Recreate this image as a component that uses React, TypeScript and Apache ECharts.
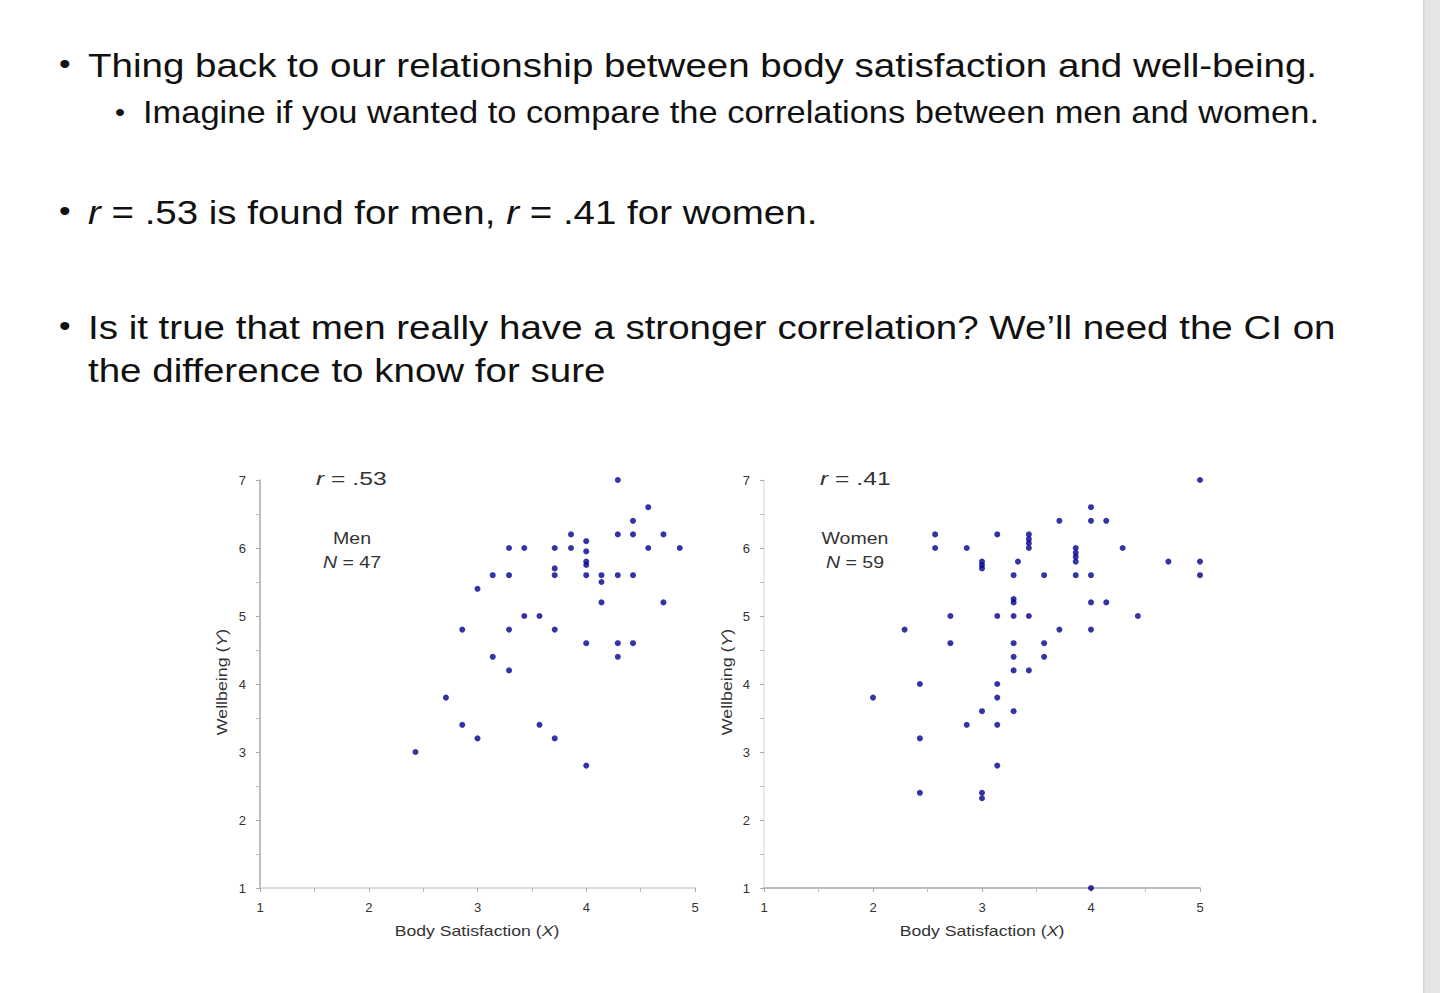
import React, { useEffect, useRef } from "react";
import * as echarts from "echarts";

// Men: Body Satisfaction (X) and Wellbeing (Y)
const menX = [4.29, 4.57, 4.43, 3.86, 4.0, 4.29, 4.43, 4.71, 3.29, 3.43, 3.71, 3.86, 4.0, 4.57, 4.86, 3.14, 3.29, 3.71, 3.71, 4.0, 4.0, 4.0, 4.14, 4.14, 4.29, 4.43, 3.0, 4.14, 4.71, 3.43, 3.57, 2.86, 3.29, 3.71, 4.0, 4.29, 4.43, 3.14, 4.29, 3.29, 2.71, 2.86, 3.0, 3.57, 3.71, 2.43, 4.0];
const menY = [7.0, 6.6, 6.4, 6.2, 6.1, 6.2, 6.2, 6.2, 6.0, 6.0, 6.0, 6.0, 5.95, 6.0, 6.0, 5.6, 5.6, 5.7, 5.6, 5.8, 5.75, 5.6, 5.6, 5.5, 5.6, 5.6, 5.4, 5.2, 5.2, 5.0, 5.0, 4.8, 4.8, 4.8, 4.6, 4.6, 4.6, 4.4, 4.4, 4.2, 3.8, 3.4, 3.2, 3.4, 3.2, 3.0, 2.8];

// Women: Body Satisfaction (X) and Wellbeing (Y)
const womenX = [5.0, 4.0, 3.71, 4.0, 4.14, 2.57, 2.57, 2.86, 3.14, 3.43, 3.43, 3.43, 3.43, 3.0, 3.0, 3.0, 3.33, 3.29, 3.57, 3.86, 3.86, 3.86, 3.86, 3.86, 4.0, 4.29, 4.71, 5.0, 5.0, 3.29, 3.29, 4.0, 4.14, 2.71, 3.14, 3.29, 3.43, 4.43, 2.29, 3.71, 4.0, 2.71, 3.29, 3.57, 3.29, 3.57, 3.29, 3.43, 2.43, 3.14, 2.0, 3.14, 3.0, 3.29, 2.86, 3.14, 2.43, 3.14, 2.43, 3.0, 3.0, 4.0];
const womenY = [7.0, 6.6, 6.4, 6.4, 6.4, 6.2, 6.0, 6.0, 6.2, 6.2, 6.13, 6.07, 6.0, 5.8, 5.75, 5.7, 5.8, 5.6, 5.6, 6.0, 5.93, 5.87, 5.8, 5.6, 5.6, 6.0, 5.8, 5.8, 5.6, 5.25, 5.2, 5.2, 5.2, 5.0, 5.0, 5.0, 5.0, 5.0, 4.8, 4.8, 4.8, 4.6, 4.6, 4.6, 4.4, 4.4, 4.2, 4.2, 4.0, 4.0, 3.8, 3.8, 3.6, 3.6, 3.4, 3.4, 3.2, 2.8, 2.4, 2.4, 2.32, 1.0];

// Tick labels
const xTicks = [1, 2, 3, 4, 5];
const yTicks = [1, 2, 3, 4, 5, 6, 7];

const FONT = "'Liberation Sans', Arial, sans-serif";
const DOT = "#00008f";

function zip(xs: number[], ys: number[]) {
  return xs.map((x, i) => [x, ys[i]]);
}

function xAxisFor(gridIndex: number, lineColor: string) {
  return {
    gridIndex,
    type: "value",
    min: xTicks[0],
    max: xTicks[xTicks.length - 1],
    interval: 1,
    axisLine: { show: true, lineStyle: { color: lineColor, width: 1.5 } },
    axisTick: { show: true, length: 4, lineStyle: { color: "#aaa" } },
    minorTick: { show: true, splitNumber: 2, length: 4, lineStyle: { color: "#bbb" } },
    splitLine: { show: false },
    axisLabel: { color: "#333", fontSize: 13, margin: 13, fontFamily: FONT },
  };
}

function yAxisFor(gridIndex: number, lineColor: string) {
  return {
    gridIndex,
    type: "value",
    min: yTicks[0],
    max: yTicks[yTicks.length - 1],
    interval: 1,
    axisLine: { show: true, lineStyle: { color: lineColor, width: 1.5 } },
    axisTick: { show: true, length: 4, lineStyle: { color: "#aaa" } },
    minorTick: { show: true, splitNumber: 2, length: 4, lineStyle: { color: "#bbb" } },
    splitLine: { show: false },
    axisLabel: { color: "#333", fontSize: 13, margin: 14, fontFamily: FONT },
  };
}

function bodyText(x: number, y: number, text: string, size: number, sx: number) {
  return {
    type: "text",
    x,
    y,
    scaleX: sx,
    style: {
      text,
      fill: "#111",
      fontSize: size,
      fontFamily: FONT,
      verticalAlign: "middle",
      rich: {
        i: { fontStyle: "italic", fontSize: size, fontFamily: FONT, fill: "#111" },
      },
    },
  };
}

function chartText(x: number, y: number, text: string, size: number, sx: number, align = "left", rotation = 0) {
  return {
    type: "text",
    x,
    y,
    scaleX: sx,
    rotation,
    style: {
      text,
      fill: "#333",
      fontSize: size,
      fontFamily: FONT,
      align,
      verticalAlign: "middle",
      lineHeight: 24,
      rich: {
        i: { fontStyle: "italic", fontSize: size, fontFamily: FONT, fill: "#333" },
      },
    },
  };
}

export default function App() {
  const ref = useRef<HTMLDivElement>(null);

  useEffect(() => {
    if (!ref.current) return;
    const chart = echarts.init(ref.current, undefined, { renderer: "svg" });
    chart.setOption({
      animation: false,
      backgroundColor: "#ffffff",
      textStyle: { fontFamily: FONT },
      grid: [
        { left: 260, top: 480, width: 435, height: 408 },
        { left: 764, top: 480, width: 436, height: 408 },
      ],
      xAxis: [xAxisFor(0, "#cfcfcf"), xAxisFor(1, "#a8a8a8")],
      yAxis: [yAxisFor(0, "#a8a8a8"), yAxisFor(1, "#e2e2e2")],
      series: [
        {
          type: "scatter",
          xAxisIndex: 0,
          yAxisIndex: 0,
          data: zip(menX, menY),
          symbolSize: 6,
          itemStyle: { color: DOT },
        },
        {
          type: "scatter",
          xAxisIndex: 1,
          yAxisIndex: 1,
          data: zip(womenX, womenY),
          symbolSize: 6,
          itemStyle: { color: DOT },
        },
      ],
      graphic: [
        // right-hand scrollbar strip
        { type: "rect", shape: { x: 1423, y: 0, width: 17, height: 993 }, style: { fill: "#e6e6e6" } },
        { type: "rect", shape: { x: 1423, y: 0, width: 1.5, height: 993 }, style: { fill: "#d4d4d4" } },
        // bullets
        bodyText(59, 64, "•", 30, 1.1),
        bodyText(88, 65, "Thing back to our relationship between body satisfaction and well-being.", 34, 1.133),
        bodyText(115, 112, "•", 26, 1.1),
        bodyText(143, 112, "Imagine if you wanted to compare the correlations between men and women.", 31, 1.112),
        bodyText(59, 211, "•", 30, 1.1),
        bodyText(88, 212, "{i|r} = .53 is found for men, {i|r} = .41 for women.", 34, 1.132),
        bodyText(59, 326, "•", 30, 1.1),
        bodyText(88, 327, "Is it true that men really have a stronger correlation? We\u2019ll need the CI on", 34, 1.133),
        bodyText(88, 370, "the difference to know for sure", 34, 1.133),
        // chart annotations
        chartText(316, 479, "{i|r} = .53", 19, 1.3),
        chartText(352, 550, "Men\n{i|N} = 47", 17, 1.15, "center"),
        chartText(820, 479, "{i|r} = .41", 19, 1.3),
        chartText(855, 550, "Women\n{i|N} = 59", 17, 1.15, "center"),
        // axis titles
        chartText(477, 931, "Body Satisfaction ({i|X})", 14, 1.26, "center"),
        chartText(982, 931, "Body Satisfaction ({i|X})", 14, 1.26, "center"),
        chartText(222, 682, "Wellbeing ({i|Y})", 14, 1.27, "center", Math.PI / 2),
        chartText(727, 682, "Wellbeing ({i|Y})", 14, 1.27, "center", Math.PI / 2),
      ],
    });
    return () => chart.dispose();
  }, []);

  return (
    <div
      ref={ref}
      style={{ position: "fixed", left: 0, top: 0, width: 1440, height: 993, background: "#fff" }}
    />
  );
}
